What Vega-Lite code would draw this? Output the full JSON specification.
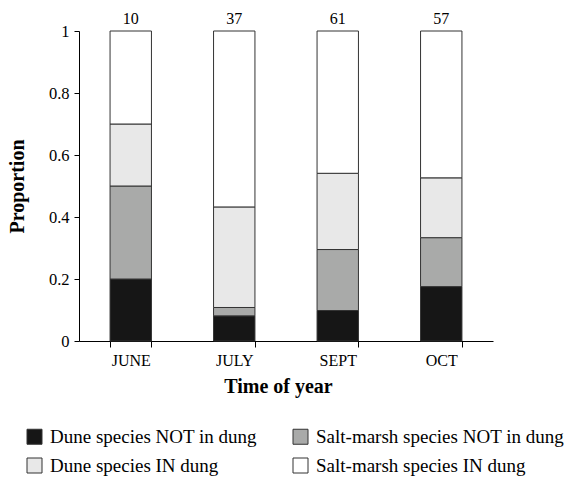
{
  "$schema": "https://vega.github.io/schema/vega-lite/v6.json",
  "width": 414,
  "height": 310,
  "autosize": {"type": "none"},
  "padding": {"left": 79, "top": 31, "right": 71, "bottom": 136},
  "config": {
    "view": {"stroke": null},
    "font": "Liberation Serif",
    "axis": {
      "grid": false,
      "domainColor": "#000000",
      "tickColor": "#000000",
      "labelColor": "#000000",
      "titleColor": "#000000",
      "labelFont": "Liberation Serif",
      "titleFont": "Liberation Serif",
      "labelFontSize": 16,
      "titleFontSize": 20,
      "titleFontWeight": "bold",
      "tickSize": 5,
      "domainWidth": 1,
      "tickWidth": 1
    }
  },
  "data": {
    "values": [
      {"month": "JUNE", "group": "Dune species NOT in dung", "k": 1, "count": 2},
      {"month": "JUNE", "group": "Salt-marsh species NOT in dung", "k": 2, "count": 3},
      {"month": "JUNE", "group": "Dune species IN dung", "k": 3, "count": 2},
      {"month": "JUNE", "group": "Salt-marsh species IN dung", "k": 4, "count": 3},
      {"month": "JULY", "group": "Dune species NOT in dung", "k": 1, "count": 3},
      {"month": "JULY", "group": "Salt-marsh species NOT in dung", "k": 2, "count": 1},
      {"month": "JULY", "group": "Dune species IN dung", "k": 3, "count": 12},
      {"month": "JULY", "group": "Salt-marsh species IN dung", "k": 4, "count": 21},
      {"month": "SEPT", "group": "Dune species NOT in dung", "k": 1, "count": 6},
      {"month": "SEPT", "group": "Salt-marsh species NOT in dung", "k": 2, "count": 12},
      {"month": "SEPT", "group": "Dune species IN dung", "k": 3, "count": 15},
      {"month": "SEPT", "group": "Salt-marsh species IN dung", "k": 4, "count": 28},
      {"month": "OCT", "group": "Dune species NOT in dung", "k": 1, "count": 10},
      {"month": "OCT", "group": "Salt-marsh species NOT in dung", "k": 2, "count": 9},
      {"month": "OCT", "group": "Dune species IN dung", "k": 3, "count": 11},
      {"month": "OCT", "group": "Salt-marsh species IN dung", "k": 4, "count": 27}
    ]
  },
  "layer": [
    {
      "mark": {"type": "bar", "stroke": "#333333", "strokeWidth": 1},
      "encoding": {
        "x": {
          "field": "month",
          "type": "nominal",
          "sort": ["JUNE", "JULY", "SEPT", "OCT"],
          "scale": {"paddingInner": 0.6, "paddingOuter": 0.3},
          "axis": {
            "title": "Time of year",
            "labelAngle": 0,
            "tickBand": "extent",
            "labelPadding": 5,
            "titlePadding": 8,
            "titleX": 199,
            "tickSize": 6
          }
        },
        "y": {
          "field": "count",
          "type": "quantitative",
          "stack": "normalize",
          "scale": {"domain": [0, 1], "nice": false},
          "axis": {
            "title": "Proportion",
            "values": [0, 0.2, 0.4, 0.6, 0.8, 1],
            "labelExpr": "format(datum.value, '~g')",
            "labelPadding": 5,
            "labelFontSize": 16.5,
            "titlePadding": 21
          }
        },
        "color": {
          "field": "group",
          "type": "nominal",
          "scale": {
            "domain": ["Dune species NOT in dung", "Salt-marsh species NOT in dung", "Dune species IN dung", "Salt-marsh species IN dung"],
            "range": ["#161616", "#a9aaa9", "#e8e8e8", "#ffffff"]
          },
          "legend": {
            "title": null,
            "orient": "none",
            "legendX": -54,
            "legendY": 396,
            "direction": "horizontal",
            "columns": 2,
            "symbolType": "square",
            "symbolSize": 225,
            "symbolStrokeColor": "#333333",
            "symbolStrokeWidth": 1,
            "labelFont": "Liberation Serif",
            "labelFontSize": 19,
            "labelColor": "#000000",
            "labelOffset": 6,
            "labelLimit": 400,
            "columnPadding": 34,
            "rowPadding": 9,
            "padding": 0
          }
        },
        "order": {"field": "k", "type": "quantitative"}
      }
    },
    {
      "transform": [
        {"aggregate": [{"op": "sum", "field": "count", "as": "n"}], "groupby": ["month"]}
      ],
      "mark": {"type": "text", "baseline": "alphabetic", "dy": -7, "fontSize": 16, "font": "Liberation Serif", "color": "#000000"},
      "encoding": {
        "x": {"field": "month", "type": "nominal", "sort": ["JUNE", "JULY", "SEPT", "OCT"]},
        "y": {"datum": 1, "type": "quantitative"},
        "text": {"field": "n", "type": "quantitative"}
      }
    }
  ]
}
